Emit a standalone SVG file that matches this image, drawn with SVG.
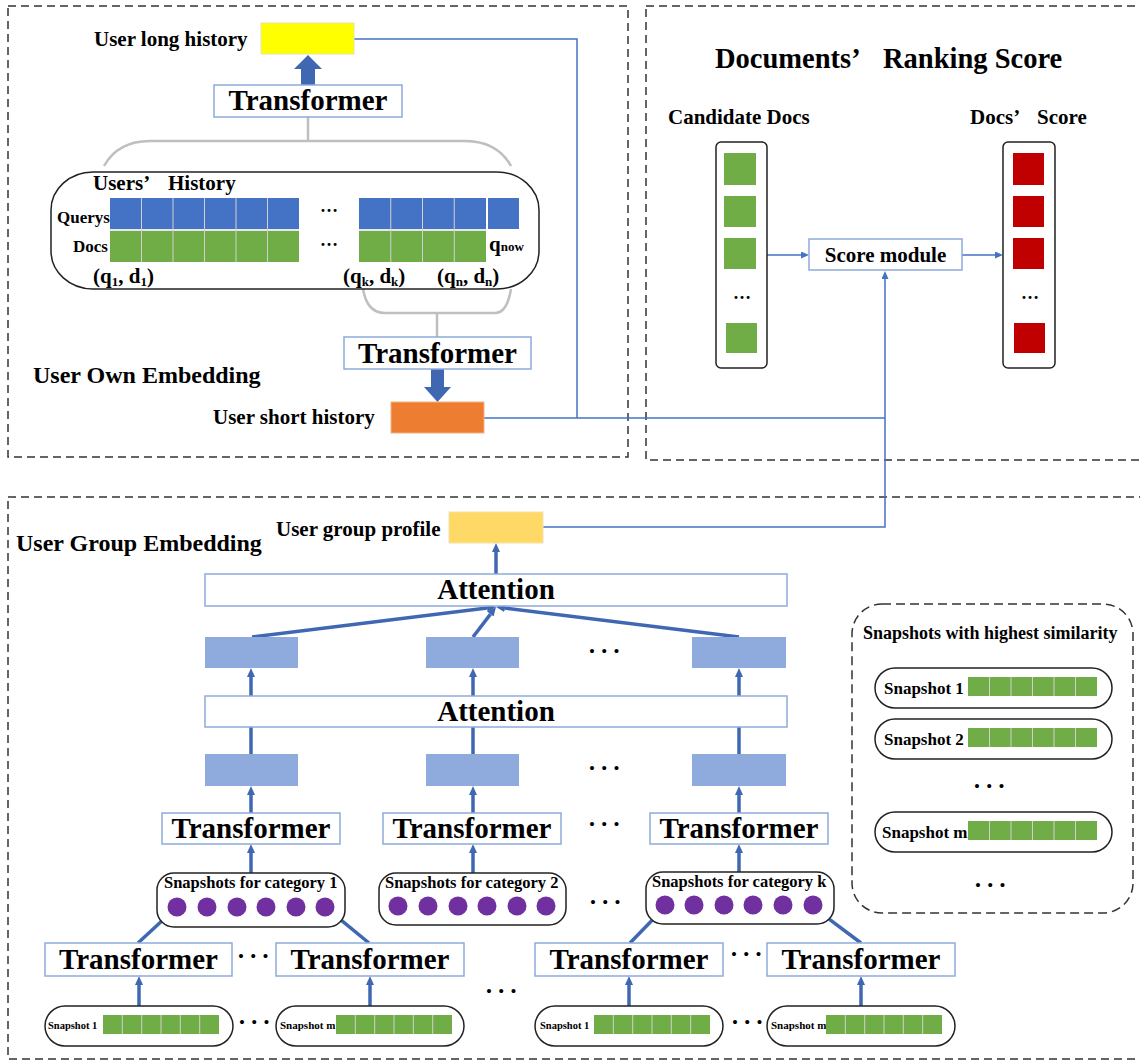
<svg xmlns="http://www.w3.org/2000/svg" width="1140" height="1063" viewBox="0 0 1140 1063">
<style>
.t{font-family:"Liberation Serif","Times New Roman",serif;font-weight:bold;fill:#000}
.box{fill:#fff;stroke:#8EAADB;stroke-width:1.5}
.dash{fill:none;stroke:#333;stroke-width:1.5;stroke-dasharray:8 5}
.conn{fill:none;stroke:#4472C4;stroke-width:1.5}
.thick{fill:none;stroke:#4068B2;stroke-width:3.5}
.bracket{fill:none;stroke:#BFBFBF;stroke-width:2.5}
.pill{fill:#fff;stroke:#222;stroke-width:1.5}
.div{fill:none;stroke:#D0D0D0;stroke-width:1}
.q{fill:#4472C4}
.g{fill:#70AD47}
.r{fill:#C00000}
.mb{fill:#8FAADC}
.pu{fill:#7030A0}
.bullets{font-family:"Liberation Serif",serif;font-size:17px;letter-spacing:1px;fill:#000}
</style>
<defs>
<marker id="ah" viewBox="0 0 10 10" refX="0" refY="5" markerWidth="8" markerHeight="7" markerUnits="userSpaceOnUse" orient="auto" preserveAspectRatio="none"><path d="M0,0 L10,5 L0,10 z" fill="#4472C4"/></marker>
<marker id="ahT" viewBox="0 0 10 10" refX="0" refY="5" markerWidth="9" markerHeight="8" markerUnits="userSpaceOnUse" orient="auto" preserveAspectRatio="none"><path d="M0,0 L10,5 L0,10 z" fill="#4068B2"/></marker>
</defs>
<rect width="1140" height="1063" fill="#fff"/>

<!-- panels -->
<g id="panel-own"><rect class="dash" x="8" y="6" width="620" height="451"/></g>
<g id="panel-rank"><rect class="dash" x="646" y="6" width="520" height="454"/></g>
<g id="panel-group"><rect class="dash" x="8" y="497" width="1160" height="562"/></g>

<!-- connectors -->
<g id="connectors">
<path class="conn" d="M354,39 H577 V418"/>
<path class="conn" d="M484,418 H885"/>
<path class="conn" d="M543,527 H885 V279" marker-end="url(#ah)"/>
<path class="conn" d="M767,255 H801" marker-end="url(#ah)"/>
<path class="conn" d="M962,255 H995" marker-end="url(#ah)"/>
<path class="bracket" d="M308,117 V141"/>
<path class="bracket" d="M104,166 Q118,141 150,141 H465 Q497,141 511,166"/>
<path class="bracket" d="M363,289 Q367,313 385,313 H495 Q507,313 511,289"/>
<path class="bracket" d="M437,313 V337"/>
<polygon points="301,85 315,85 315,69 322,69 308,55 294,69 301,69" fill="#4068B2"/>
<polygon points="431,369 444,369 444,387 451,387 437.5,402 424,387 431,387" fill="#4068B2"/>
<path class="thick" d="M496,574 V552" marker-end="url(#ahT)"/>
<path class="thick" d="M252,637 L487.1,608.1" marker-end="url(#ahT)"/>
<path class="thick" d="M473,637 L490.5,614.1" marker-end="url(#ahT)"/>
<path class="thick" d="M739,637 L504.9,608.1" marker-end="url(#ahT)"/>
<path class="thick" d="M251,696 V677" marker-end="url(#ahT)"/>
<path class="thick" d="M473,696 V677" marker-end="url(#ahT)"/>
<path class="thick" d="M739,696 V677" marker-end="url(#ahT)"/>
<path class="thick" d="M251,754 V727 M473,754 V727 M739,754 V727"/>
<path class="thick" d="M251,813 V795" marker-end="url(#ahT)"/>
<path class="thick" d="M473,813 V795" marker-end="url(#ahT)"/>
<path class="thick" d="M739,813 V795" marker-end="url(#ahT)"/>
<path class="thick" d="M251,873 V853" marker-end="url(#ahT)"/>
<path class="thick" d="M473,873 V853" marker-end="url(#ahT)"/>
<path class="thick" d="M739,872 V853" marker-end="url(#ahT)"/>
<path class="thick" d="M138,943 L163.4,919.5" marker-end="url(#ahT)"/>
<path class="thick" d="M369,943 L339.3,918.7" marker-end="url(#ahT)"/>
<path class="thick" d="M630,943 L652.1,920.3" marker-end="url(#ahT)"/>
<path class="thick" d="M861,943 L827.8,918.1" marker-end="url(#ahT)"/>
<path class="thick" d="M139,1006 V985" marker-end="url(#ahT)"/>
<path class="thick" d="M370,1006 V985" marker-end="url(#ahT)"/>
<path class="thick" d="M629,1006 V985" marker-end="url(#ahT)"/>
<path class="thick" d="M861,1006 V985" marker-end="url(#ahT)"/>
</g>

<!-- User own embedding -->
<g id="user-long-history">
<text class="t" x="94" y="46" font-size="21">User long history</text>
<rect x="261" y="23" width="93" height="31" fill="#FFFF00" stroke="#E6E6A0" stroke-width="1"/>
</g>
<g id="transformer-long">
<rect class="box" x="214" y="85" width="188" height="32"/>
<text class="t" x="308" y="110" font-size="29" text-anchor="middle">Transformer</text>
</g>
<g id="users-history">
<rect x="51" y="172" width="488" height="117" rx="42" ry="38" fill="none" stroke="#222" stroke-width="1.5"/>
<text class="t" x="93" y="190" font-size="21">Users’<tspan x="168">History</tspan></text>
<text class="t" x="57" y="223" font-size="17">Querys</text>
<text class="t" x="73" y="252" font-size="17">Docs</text>
<rect class="q" x="110" y="198" width="189" height="31"/>
<rect class="g" x="110" y="231" width="189" height="31"/>
<rect class="q" x="359" y="198" width="127" height="31"/>
<rect class="g" x="359" y="231" width="127" height="31"/>
<rect class="q" x="488" y="198" width="31" height="31"/>
<path class="div" d="M141.5,198 V262 M173,198 V262 M204.5,198 V262 M236,198 V262 M267.5,198 V262 M390.75,198 V262 M422.5,198 V262 M454.25,198 V262 M110,230 H299 M359,230 H486"/>
<text class="t" x="320" y="212" font-size="18" font-weight="normal">…</text>
<text class="t" x="320" y="246" font-size="18" font-weight="normal">…</text>
<text class="t" x="489" y="251" font-size="21">q<tspan font-size="13">now</tspan></text>
<text class="t" x="93" y="283" font-size="21">(q<tspan font-size="13" dy="3">1</tspan><tspan dy="-3">, d</tspan><tspan font-size="13" dy="3">1</tspan><tspan dy="-3">)</tspan></text>
<text class="t" x="343" y="283" font-size="21">(q<tspan font-size="13" dy="3">k</tspan><tspan dy="-3">, d</tspan><tspan font-size="13" dy="3">k</tspan><tspan dy="-3">)</tspan></text>
<text class="t" x="437" y="283" font-size="21">(q<tspan font-size="13" dy="3">n</tspan><tspan dy="-3">, d</tspan><tspan font-size="13" dy="3">n</tspan><tspan dy="-3">)</tspan></text>
</g>
<g id="transformer-short">
<rect class="box" x="344" y="337" width="187" height="32"/>
<text class="t" x="437.5" y="363" font-size="29" text-anchor="middle">Transformer</text>
</g>
<g id="user-short-history">
<text class="t" x="213" y="424" font-size="21">User short history</text>
<rect x="391" y="402" width="93" height="31" fill="#ED7D31" stroke="#F4B183" stroke-width="1"/>
</g>
<g id="label-own"><text class="t" x="33" y="383" font-size="24">User Own Embedding</text></g>

<!-- Ranking -->
<g id="title-rank"><text class="t" x="715" y="68" font-size="28.5">Documents’<tspan x="883">Ranking Score</tspan></text></g>
<g id="candidate-docs">
<text class="t" x="668" y="124" font-size="21">Candidate Docs</text>
<rect x="716" y="142" width="51" height="226" rx="5" fill="#fff" stroke="#222" stroke-width="1.5"/>
<rect class="g" x="724" y="153" width="32" height="32"/>
<rect class="g" x="724" y="196" width="32" height="31"/>
<rect class="g" x="724" y="238" width="32" height="31"/>
<text class="t" x="733" y="299" font-size="18" font-weight="normal">…</text>
<rect class="g" x="726" y="323" width="31" height="30"/>
</g>
<g id="score-module">
<rect class="box" x="809" y="239" width="153" height="31"/>
<text class="t" x="885.5" y="262" font-size="21" text-anchor="middle">Score module</text>
</g>
<g id="docs-score">
<text class="t" x="970" y="124" font-size="21">Docs’<tspan x="1037">Score</tspan></text>
<rect x="1003" y="142" width="52" height="226" rx="5" fill="#fff" stroke="#222" stroke-width="1.5"/>
<rect class="r" x="1013" y="153" width="31" height="32"/>
<rect class="r" x="1013" y="196" width="31" height="31"/>
<rect class="r" x="1013" y="238" width="31" height="31"/>
<text class="t" x="1021" y="299" font-size="18" font-weight="normal">…</text>
<rect class="r" x="1014" y="323" width="31" height="30"/>
</g>

<!-- Group embedding -->
<g id="label-group"><text class="t" x="16" y="551" font-size="24">User Group Embedding</text></g>
<g id="user-group-profile">
<text class="t" x="276" y="536" font-size="21">User group profile</text>
<rect x="449" y="512" width="94" height="31" fill="#FFD966" stroke="#F2E2A6" stroke-width="1"/>
</g>
<g id="attention-top">
<rect class="box" x="205" y="574" width="582" height="32"/>
<text class="t" x="496" y="599" font-size="29" text-anchor="middle">Attention</text>
</g>
<g id="cat-emb-1"><rect class="mb" x="205" y="637" width="93" height="31"/></g>
<g id="cat-emb-2"><rect class="mb" x="426" y="637" width="93" height="31"/></g>
<g id="cat-emb-k"><rect class="mb" x="692" y="637" width="94" height="31"/></g>
<text class="bullets" x="589" y="657">• • •</text>
<g id="attention-mid">
<rect class="box" x="205" y="696" width="582" height="31"/>
<text class="t" x="496" y="721" font-size="29" text-anchor="middle">Attention</text>
</g>
<g id="seq-emb-1"><rect class="mb" x="205" y="754" width="93" height="32"/></g>
<g id="seq-emb-2"><rect class="mb" x="426" y="754" width="93" height="32"/></g>
<g id="seq-emb-k"><rect class="mb" x="692" y="754" width="94" height="32"/></g>
<text class="bullets" x="589" y="774">• • •</text>
<g id="transformer-cat-1"><rect class="box" x="162" y="813" width="178" height="31"/><text class="t" x="251" y="838" font-size="29" text-anchor="middle">Transformer</text></g>
<g id="transformer-cat-2"><rect class="box" x="383" y="813" width="178" height="31"/><text class="t" x="472" y="838" font-size="29" text-anchor="middle">Transformer</text></g>
<g id="transformer-cat-k"><rect class="box" x="650" y="813" width="178" height="31"/><text class="t" x="739" y="838" font-size="29" text-anchor="middle">Transformer</text></g>
<text class="bullets" x="589" y="830">• • •</text>

<g id="snapshots-cat-1">
<rect class="pill" x="157" y="873" width="188" height="54" rx="17"/>
<text class="t" x="164" y="888" font-size="16.5">Snapshots for category 1</text>
<circle class="pu" cx="177" cy="907" r="9.5"/><circle class="pu" cx="207" cy="907" r="9.5"/><circle class="pu" cx="237" cy="907" r="9.5"/><circle class="pu" cx="266" cy="907" r="9.5"/><circle class="pu" cx="296" cy="907" r="9.5"/><circle class="pu" cx="325" cy="907" r="9.5"/>
</g>
<g id="snapshots-cat-2">
<rect class="pill" x="379" y="873" width="187" height="52" rx="17"/>
<text class="t" x="385" y="888" font-size="16.5">Snapshots for category 2</text>
<circle class="pu" cx="398" cy="906" r="9.5"/><circle class="pu" cx="428" cy="906" r="9.5"/><circle class="pu" cx="458" cy="906" r="9.5"/><circle class="pu" cx="487" cy="906" r="9.5"/><circle class="pu" cx="517" cy="906" r="9.5"/><circle class="pu" cx="546" cy="906" r="9.5"/>
</g>
<text class="bullets" x="590" y="908">• • •</text>
<g id="snapshots-cat-k">
<rect class="pill" x="646" y="872" width="188" height="52" rx="17"/>
<text class="t" x="652" y="887" font-size="16.5">Snapshots for category k</text>
<circle class="pu" cx="665" cy="905" r="9.5"/><circle class="pu" cx="694" cy="905" r="9.5"/><circle class="pu" cx="724" cy="905" r="9.5"/><circle class="pu" cx="753" cy="905" r="9.5"/><circle class="pu" cx="783" cy="905" r="9.5"/><circle class="pu" cx="813" cy="905" r="9.5"/>
</g>

<g id="transformer-s1a"><rect class="box" x="45" y="943" width="187" height="33"/><text class="t" x="138.5" y="969" font-size="29" text-anchor="middle">Transformer</text></g>
<text class="bullets" x="238" y="962">• • •</text>
<g id="transformer-sma"><rect class="box" x="276" y="943" width="188" height="33"/><text class="t" x="370" y="969" font-size="29" text-anchor="middle">Transformer</text></g>
<text class="bullets" x="486" y="997">• • •</text>
<g id="transformer-s1k"><rect class="box" x="535" y="943" width="188" height="33"/><text class="t" x="629" y="969" font-size="29" text-anchor="middle">Transformer</text></g>
<text class="bullets" x="731" y="960">• • •</text>
<g id="transformer-smk"><rect class="box" x="767" y="943" width="188" height="33"/><text class="t" x="861" y="969" font-size="29" text-anchor="middle">Transformer</text></g>

<g id="snapshot-1a">
<rect class="pill" x="45" y="1006" width="188" height="40" rx="20"/>
<text class="t" x="48" y="1029" font-size="10.5">Snapshot 1</text>
<rect class="g" x="103" y="1015" width="116" height="19"/>
<path class="div" d="M122.3,1015 V1034 M141.7,1015 V1034 M161,1015 V1034 M180.3,1015 V1034 M199.7,1015 V1034"/>
</g>
<text class="bullets" x="239" y="1028">• • •</text>
<g id="snapshot-ma">
<rect class="pill" x="276" y="1006" width="188" height="40" rx="20"/>
<text class="t" x="280" y="1029" font-size="11">Snapshot m</text>
<rect class="g" x="336" y="1015" width="116" height="19"/>
<path class="div" d="M355.3,1015 V1034 M374.7,1015 V1034 M394,1015 V1034 M413.3,1015 V1034 M432.7,1015 V1034"/>
</g>
<g id="snapshot-1k">
<rect class="pill" x="535" y="1006" width="188" height="40" rx="20"/>
<text class="t" x="540" y="1029" font-size="10.5">Snapshot 1</text>
<rect class="g" x="594" y="1015" width="116" height="19"/>
<path class="div" d="M613.3,1015 V1034 M632.7,1015 V1034 M652,1015 V1034 M671.3,1015 V1034 M690.7,1015 V1034"/>
</g>
<text class="bullets" x="732" y="1028">• • •</text>
<g id="snapshot-mk">
<rect class="pill" x="767" y="1006" width="188" height="40" rx="20"/>
<text class="t" x="771" y="1029" font-size="11">Snapshot m</text>
<rect class="g" x="826" y="1015" width="116" height="19"/>
<path class="div" d="M845.3,1015 V1034 M864.7,1015 V1034 M884,1015 V1034 M903.3,1015 V1034 M922.7,1015 V1034"/>
</g>

<g id="highest-similarity">
<rect class="dash" x="852" y="604" width="281" height="309" rx="30" style="stroke-dasharray:9 5"/>
<text class="t" x="863" y="639" font-size="18">Snapshots with highest similarity</text>
<rect class="pill" x="875" y="668" width="237" height="40" rx="20"/>
<text class="t" x="884" y="694" font-size="17">Snapshot 1</text>
<rect class="g" x="968" y="677" width="129" height="19"/>
<path class="div" d="M989.5,677 V696 M1011,677 V696 M1032.5,677 V696 M1054,677 V696 M1075.5,677 V696"/>
<rect class="pill" x="875" y="719" width="237" height="40" rx="20"/>
<text class="t" x="884" y="745" font-size="17">Snapshot 2</text>
<rect class="g" x="968" y="728" width="129" height="19"/>
<path class="div" d="M989.5,728 V747 M1011,728 V747 M1032.5,728 V747 M1054,728 V747 M1075.5,728 V747"/>
<text class="bullets" x="974" y="792">• • •</text>
<rect class="pill" x="875" y="812" width="237" height="40" rx="20"/>
<text class="t" x="882" y="838" font-size="17">Snapshot m</text>
<rect class="g" x="968" y="821" width="129" height="19"/>
<path class="div" d="M989.5,821 V840 M1011,821 V840 M1032.5,821 V840 M1054,821 V840 M1075.5,821 V840"/>
<text class="bullets" x="975" y="891">• • •</text>
</g>
</svg>
